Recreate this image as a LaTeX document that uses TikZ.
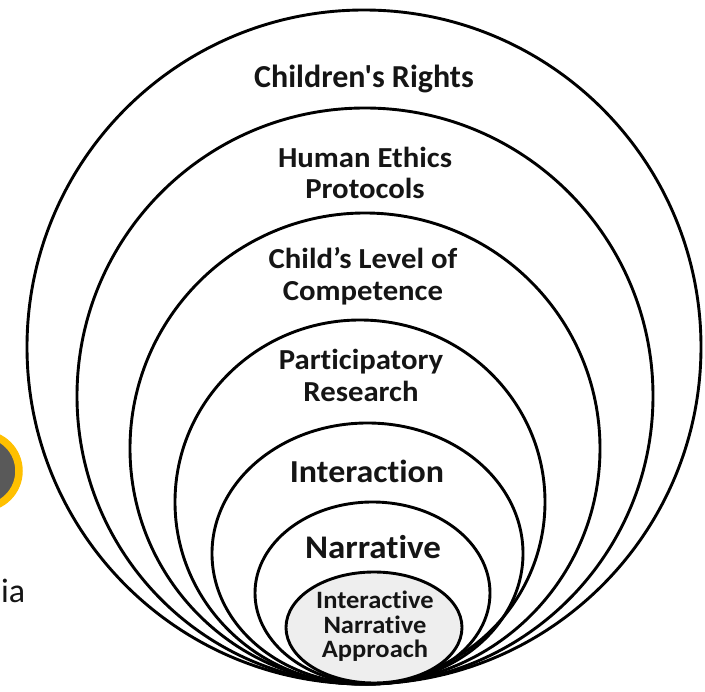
\documentclass[tikz,border=0pt]{standalone}
\usepackage{fontspec}
\setmainfont{Carlito}
\newfontfamily\labplain{Carlito}[Ligatures=NoCommon]
\newfontfamily\labwide{Carlito}[Ligatures=NoCommon, FakeStretch=1.06]
\definecolor{txt}{HTML}{151515}
\definecolor{innerfill}{HTML}{EEEEEE}
\definecolor{ringorange}{HTML}{FFC000}
\definecolor{darkdisc}{HTML}{595959}
\begin{document}
\begin{tikzpicture}[x=1pt,y=-1pt,
  shell/.style={draw=black, line width=2.9pt},
  lblA/.style={font=\labplain\bfseries\fontsize{32}{36}\selectfont, text=txt, inner sep=0pt, anchor=base},
  lblB/.style={font=\labwide\bfseries\fontsize{29}{32}\selectfont, text=txt, inner sep=0pt, anchor=base},
  lblC/.style={font=\labwide\bfseries\fontsize{32}{35}\selectfont, text=txt, inner sep=0pt, anchor=base},
  lblN/.style={font=\labwide\bfseries\fontsize{33}{36}\selectfont, text=txt, inner sep=0pt, anchor=base},
  lblD/.style={font=\labwide\bfseries\fontsize{25}{28}\selectfont, text=txt, inner sep=0pt, anchor=base}]
\useasboundingbox (0,0) rectangle (705,692);
\fill[white] (0,0) rectangle (705,692);
% left partial disc
\begin{scope}
\clip (0,0) rectangle (705,692);
\draw[ringorange, fill=darkdisc, line width=7.5pt] (-18,471) circle [radius=37pt];
\end{scope}
\node[font=\labplain\fontsize{34}{38}\selectfont, text=txt, inner sep=0pt, anchor=base east] (ia) at (25.5,603) {ia};
% nested shells
\draw[shell] (364,347) ellipse [x radius=337pt, y radius=337pt];
\draw[shell] (365,396) ellipse [x radius=288pt, y radius=288pt];
\draw[shell] (365,448.5) ellipse [x radius=235pt, y radius=235.5pt];
\draw[shell] (360,502) ellipse [x radius=185pt, y radius=182pt];
\draw[shell] (367.5,553.5) ellipse [x radius=155.5pt, y radius=130.5pt];
\draw[shell] (372.5,593) ellipse [x radius=117.5pt, y radius=91pt];
\draw[shell, fill=innerfill] (374,627.5) ellipse [x radius=88pt, y radius=55.5pt];
% labels
\node[lblA] (rights) at (364,88) {Children's Rights};
\node[lblB] (ethics1) at (365,167.5) {Human Ethics};
\node[lblB] (ethics2) at (365,198.5) {Protocols};
\node[lblB] (level1) at (363,268.5) {Child’s Level of};
\node[lblB] (level2) at (363,301) {Competence};
\node[lblB] (part1) at (361,370) {Participatory};
\node[lblB] (part2) at (361,402) {Research};
\node[lblC] (inter) at (367,483) {Interaction};
\node[lblN] (narr) at (373,559) {Narrative};
\node[lblD] (in1) at (375,608.5) {Interactive};
\node[lblD] (in2) at (375,633.5) {Narrative};
\node[lblD] (in3) at (375,658) {Approach};
\end{tikzpicture}
\end{document}
